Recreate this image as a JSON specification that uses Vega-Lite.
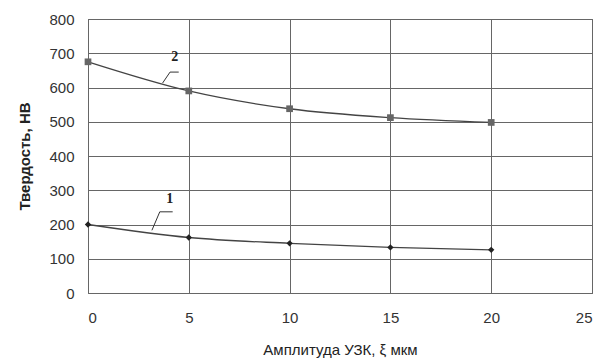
{
  "$schema": "https://vega.github.io/schema/vega-lite/v6.json",
  "width": 504,
  "height": 274,
  "autosize": "none",
  "padding": {"left": 88, "top": 19, "right": 15, "bottom": 70},
  "background": "white",
  "config": {
    "font": "Liberation Sans",
    "view": {"stroke": "#555", "strokeWidth": 1}
  },
  "datasets": {
    "pts": [
      {"x": 0, "y": 675, "s": "2"},
      {"x": 5, "y": 590, "s": "2"},
      {"x": 10, "y": 538, "s": "2"},
      {"x": 15, "y": 512, "s": "2"},
      {"x": 20, "y": 498, "s": "2"},
      {"x": 0, "y": 200, "s": "1"},
      {"x": 5, "y": 162, "s": "1"},
      {"x": 10, "y": 145, "s": "1"},
      {"x": 15, "y": 133, "s": "1"},
      {"x": 20, "y": 126, "s": "1"}
    ],
    "labels": [
      {"x": 4.3, "y": 668, "t": "2"},
      {"x": 4.06, "y": 255, "t": "1"}
    ],
    "leaders": [
      {"x": 4.07, "y": 645, "x2": 4.5, "y2": 645},
      {"x": 4.07, "y": 645, "x2": 3.7, "y2": 613},
      {"x": 3.56, "y": 237, "x2": 4.2, "y2": 237},
      {"x": 3.56, "y": 237, "x2": 3.17, "y2": 183}
    ]
  },
  "encoding": {
    "x": {
      "field": "x", "type": "quantitative",
      "scale": {"domain": [0, 25], "nice": false},
      "axis": {
        "title": "Амплитуда УЗК, ξ  мкм",
        "titleFontSize": 15, "titleFontWeight": "normal", "titleColor": "#222", "titlePadding": 17,
        "labelFontSize": 15, "labelColor": "#333", "labelPadding": 17,
        "values": [0, 5, 10, 15, 20, 25],
        "grid": true, "gridColor": "#666", "gridWidth": 1,
        "ticks": false, "domain": false
      }
    },
    "y": {
      "field": "y", "type": "quantitative",
      "scale": {"domain": [0, 800], "nice": false},
      "axis": {
        "title": "Твердость, НВ",
        "titleFontSize": 15, "titleFontWeight": "bold", "titleColor": "#222", "titlePadding": 16,
        "labelFontSize": 15, "labelColor": "#333", "labelPadding": 14,
        "values": [0, 100, 200, 300, 400, 500, 600, 700, 800],
        "labelOverlap": false,
        "grid": true, "gridColor": "#666", "gridWidth": 1,
        "ticks": false, "domain": false
      }
    }
  },
  "layer": [
    {
      "data": {"name": "pts"},
      "mark": {"type": "line", "interpolate": "monotone", "color": "#444", "strokeWidth": 1.3},
      "encoding": {
        "detail": {"field": "s"}
      }
    },
    {
      "data": {"name": "pts"},
      "transform": [{"filter": "datum.s == '2'"}],
      "mark": {"type": "point", "shape": "square", "filled": true, "size": 45, "color": "#666", "opacity": 1}
    },
    {
      "data": {"name": "pts"},
      "transform": [{"filter": "datum.s == '1'"}],
      "mark": {"type": "point", "shape": "diamond", "filled": true, "size": 40, "color": "#222", "opacity": 1}
    },
    {
      "data": {"name": "leaders"},
      "mark": {"type": "rule", "color": "#333", "strokeWidth": 1},
      "encoding": {
        "x2": {"field": "x2"},
        "y2": {"field": "y2"}
      }
    },
    {
      "data": {"name": "labels"},
      "mark": {"type": "text", "font": "Liberation Serif", "fontWeight": "bold", "fontSize": 14, "color": "#222", "baseline": "bottom"},
      "encoding": {
        "text": {"field": "t"}
      }
    }
  ]
}
